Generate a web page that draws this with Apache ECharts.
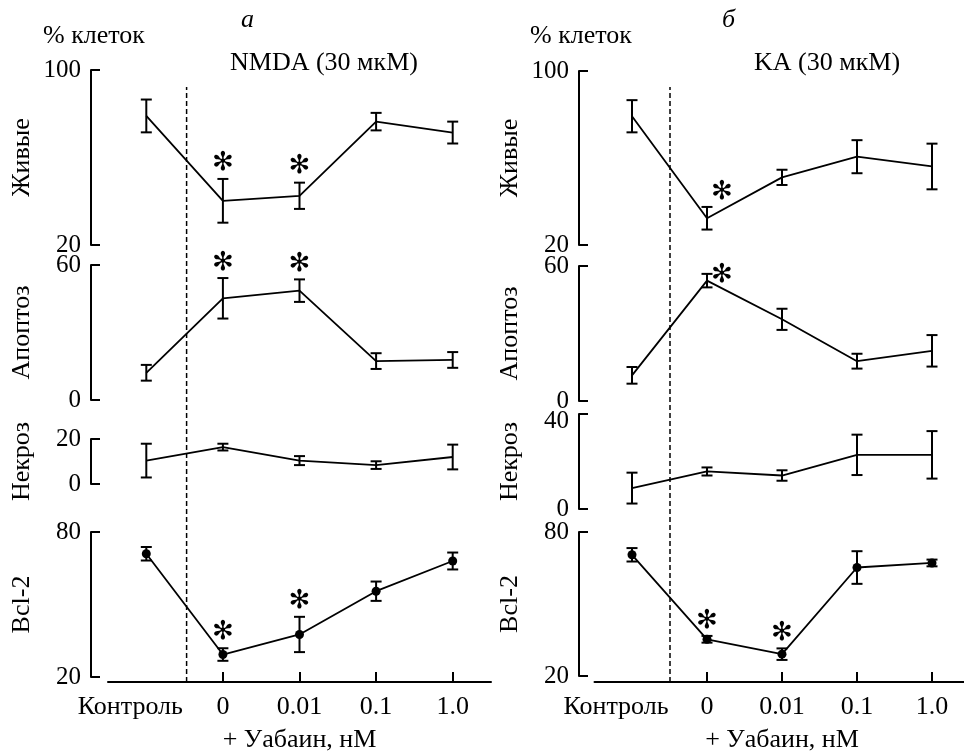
<!DOCTYPE html>
<html>
<head>
<meta charset="utf-8">
<script src="https://cdn.jsdelivr.net/npm/echarts@6/dist/echarts.min.js"></script>
<style>
  html, body { margin: 0; padding: 0; background: #fff; }
  #main { width: 964px; height: 751px; }
</style>
</head>
<body>
<div id="main"></div>
<script>
// категории по оси X
const categories = ['Контроль', '0', '0.01', '0.1', '1.0']
const dividerAt = 0.5 // граница между контролем и опытом

// а: NMDA (30 мкМ)
const nmdaLive = [79, 40.2, 42.5, 76.4, 71.4]
const nmdaLiveErr = [7.5, 10, 6, 4, 5]
const nmdaLiveStars = [1, 2]
const nmdaApop = [12.1, 45.2, 48.6, 17.3, 17.8]
const nmdaApopErr = [3.5, 9, 5, 3.5, 3.5]
const nmdaApopStars = [1, 2]
const nmdaNecr = [10.4, 16.4, 10.4, 8.4, 12]
const nmdaNecrErr = [7.5, 1.5, 2, 1.7, 5.5]
const nmdaNecrStars = []
const nmdaBcl = [71, 29.3, 37.6, 55.5, 68]
const nmdaBclErr = [2.8, 2.6, 7.3, 4, 3.5]
const nmdaBclStars = [1, 2]

// б: KA (30 мкМ)
const kaLive = [79.2, 32.3, 51.1, 60.6, 56.1]
const kaLiveErr = [7.4, 5.2, 3.5, 7.6, 10.5]
const kaLiveStars = [1]
const kaApop = [11.4, 53.5, 36.3, 17.7, 22.3]
const kaApopErr = [3.7, 3, 4.7, 3.3, 7]
const kaApopStars = [1]
const kaNecr = [8.8, 15.8, 14.1, 22.8, 22.8]
const kaNecrErr = [6.5, 1.7, 2.2, 8.5, 10]
const kaNecrStars = []
const kaBcl = [70.5, 35.3, 29.1, 65.2, 67.1]
const kaBclErr = [2.8, 1.4, 2.4, 6.8, 1.4]
const kaBclStars = [1, 2]

// пределы осей Y и подписи
const liveRange = [20, 100]
const apopRange = [0, 60]
const nmdaNecrRange = [0, 20]
const kaNecrRange = [0, 40]
const bclRange = [20, 80]
const rowNames = ['Живые', 'Апоптоз', 'Некроз', 'Bcl-2']

const FONT = 'Liberation Serif'
const FS = 26
const TICK_FS = 25

const L = { left: 108, width: 383, yOff: 17 }
const R = { left: 594.5, width: 375, yOff: 15.5 }

const panels = [
  { vals: nmdaLive, errs: nmdaLiveErr, stars: nmdaLiveStars, range: liveRange, name: rowNames[0], col: L, top: 70, height: 175, sdx: 0, sdy: -16 },
  { vals: nmdaApop, errs: nmdaApopErr, stars: nmdaApopStars, range: apopRange, name: rowNames[1], col: L, top: 265, height: 135, sdx: 0, sdy: -15 },
  { vals: nmdaNecr, errs: nmdaNecrErr, stars: nmdaNecrStars, range: nmdaNecrRange, name: rowNames[2], col: L, top: 439, height: 45, sdx: 0, sdy: -15 },
  { vals: nmdaBcl, errs: nmdaBclErr, stars: nmdaBclStars, range: bclRange, name: rowNames[3], col: L, top: 532, height: 145, sdx: 0, sdy: -16, dots: true, bottom: true, offset: 5 },
  { vals: kaLive, errs: kaLiveErr, stars: kaLiveStars, range: liveRange, name: rowNames[0], col: R, top: 71, height: 174, sdx: 15, sdy: -15 },
  { vals: kaApop, errs: kaApopErr, stars: kaApopStars, range: apopRange, name: rowNames[1], col: R, top: 266, height: 135, sdx: 15, sdy: 1 },
  { vals: kaNecr, errs: kaNecrErr, stars: kaNecrStars, range: kaNecrRange, name: rowNames[2], col: R, top: 414, height: 95, sdx: 0, sdy: -15, maxDown: true },
  { vals: kaBcl, errs: kaBclErr, stars: kaBclStars, range: bclRange, name: rowNames[3], col: R, top: 532, height: 144, sdx: 0, sdy: -15, dots: true, bottom: true, offset: 6 }
]

const grids = []
const xAxes = []
const yAxes = []
const series = []

panels.forEach((p, k) => {
  grids.push({ left: p.col.left, width: p.col.width, top: p.top, height: p.height, outerBoundsMode: 'none', containLabel: false })
  xAxes.push({
    gridIndex: k,
    type: 'category',
    data: categories,
    boundaryGap: true,
    show: !!p.bottom,
    offset: p.offset || 0,
    axisLine: { show: true, lineStyle: { color: '#000', width: 2 } },
    axisTick: { show: true, inside: true, length: 10, alignWithLabel: true, interval: (i) => i > 0, lineStyle: { color: '#000', width: 2 } },
    axisLabel: {
      color: '#000', fontFamily: FONT, fontSize: FS, margin: 12, interval: 0,
      formatter: (v, i) => i === 0 ? '{c|' + v + '}' : v,
      rich: { c: { fontFamily: FONT, fontSize: FS, color: '#000', padding: [0, 32, 0, 0] } }
    },
    name: '+ Уабаин, нМ',
    nameLocation: 'middle',
    nameGap: 45,
    nameTextStyle: { color: '#000', fontFamily: FONT, fontSize: FS },
    splitLine: { show: false }
  })
  yAxes.push({
    gridIndex: k,
    type: 'value',
    min: p.range[0],
    max: p.range[1],
    offset: p.col.yOff,
    axisLine: { show: true, lineStyle: { color: '#000', width: 2 } },
    axisTick: { show: true, inside: true, length: 9, customValues: p.range, lineStyle: { color: '#000', width: 2 } },
    axisLabel: {
      color: '#000', fontFamily: FONT, fontSize: TICK_FS, margin: 10, customValues: p.range,
      formatter: (v) => (p.maxDown && v === p.range[1]) ? '{d|' + v + '}' : String(v),
      rich: { d: { fontFamily: FONT, fontSize: TICK_FS, color: '#000', padding: [14, 0, 0, 0] } }
    },
    splitLine: { show: false },
    name: p.name,
    nameLocation: 'middle',
    nameRotate: 90,
    nameGap: 56,
    nameTextStyle: { color: '#000', fontFamily: FONT, fontSize: FS }
  })
  series.push({
    type: 'line',
    xAxisIndex: k,
    yAxisIndex: k,
    data: p.vals,
    symbol: p.dots ? 'circle' : 'none',
    symbolSize: 9,
    itemStyle: { color: '#000' },
    lineStyle: { color: '#000', width: 1.8 },
    silent: true,
    z: 3
  })
  series.push({
    type: 'custom',
    xAxisIndex: k,
    yAxisIndex: k,
    data: p.vals.map((v, i) => [i, v, p.errs[i], p.stars.includes(i) ? 1 : 0]),
    encode: { x: 0, y: 1 },
    silent: true,
    z: 4,
    renderItem: (params, api) => {
      const i = api.value(0)
      const v = api.value(1)
      const e = api.value(2)
      const hi = api.coord([i, v + e])
      const lo = api.coord([i, v - e])
      const w = 5.5
      const st = { stroke: '#000', lineWidth: 2 }
      const children = [
        { type: 'line', shape: { x1: hi[0], y1: hi[1], x2: lo[0], y2: lo[1] }, style: st },
        { type: 'line', shape: { x1: hi[0] - w, y1: hi[1], x2: hi[0] + w, y2: hi[1] }, style: st },
        { type: 'line', shape: { x1: lo[0] - w, y1: lo[1], x2: lo[0] + w, y2: lo[1] }, style: st }
      ]
      if (api.value(3)) {
        children.push({
          type: 'text',
          x: hi[0] + p.sdx,
          y: hi[1] + p.sdy,
          style: { text: '✻', fill: '#000', fontSize: 26, fontFamily: 'DejaVu Sans', align: 'center', verticalAlign: 'middle', fontWeight: 'bold' }
        })
      }
      return { type: 'group', children }
    }
  })
})

// пунктирная граница контроль / опыт через все панели
const overlays = [
  { left: 110, width: 383, top: 87, height: 595 },
  { left: 595, width: 375, top: 87, height: 595 }
]
overlays.forEach((g) => {
  const k = grids.length
  grids.push({ ...g, outerBoundsMode: 'none', containLabel: false })
  xAxes.push({ gridIndex: k, type: 'value', min: -0.5, max: categories.length - 0.5, show: false })
  yAxes.push({ gridIndex: k, type: 'value', min: 0, max: 1, show: false })
  series.push({
    type: 'line',
    xAxisIndex: k,
    yAxisIndex: k,
    data: [[dividerAt, 0], [dividerAt, 1]],
    symbol: 'none',
    silent: true,
    lineStyle: { color: '#000', width: 1.5, type: [5, 3] },
    z: 1
  })
})

const titleStyle = { color: '#000', fontFamily: FONT, fontSize: FS, fontWeight: 'normal' }
const titles = [
  { text: 'а', left: 241, top: 7, textStyle: { ...titleStyle, fontStyle: 'italic' } },
  { text: '% клеток', left: 43, top: 23, textStyle: titleStyle },
  { text: 'NMDA (30 мкМ)', left: 230, top: 50, textStyle: titleStyle },
  { text: 'б', left: 722, top: 7, textStyle: { ...titleStyle, fontStyle: 'italic' } },
  { text: '% клеток', left: 530, top: 23, textStyle: titleStyle },
  { text: 'KA (30 мкМ)', left: 754, top: 50, textStyle: titleStyle }
]

const myChart = echarts.init(document.getElementById('main'))
myChart.setOption({
  animation: false,
  backgroundColor: '#fff',
  title: titles.map((t) => ({ ...t, padding: 0 })),
  grid: grids,
  xAxis: xAxes,
  yAxis: yAxes,
  series
})
</script>
</body>
</html>
